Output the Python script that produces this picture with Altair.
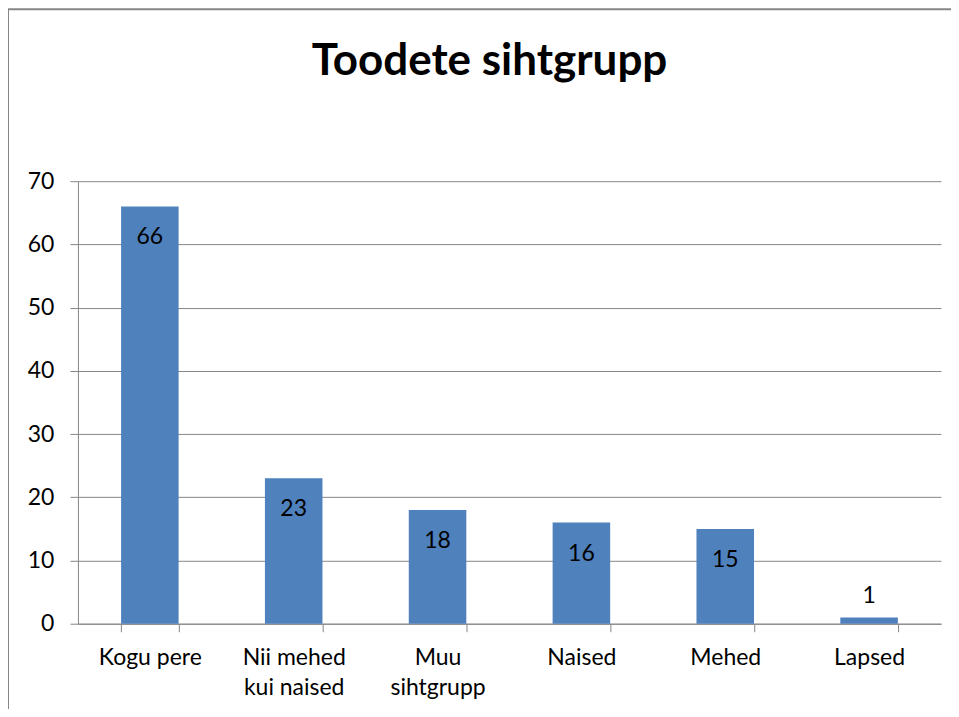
import altair as alt
import pandas as pd

categories = ["Kogu pere", "Nii mehed\nkui naised", "Muu\nsihtgrupp", "Naised", "Mehed", "Lapsed"]
values = [66, 23, 18, 16, 15, 1]

df = pd.DataFrame({"cat": categories, "val": values})

FONT = "Lato"
GRID = "#868686"
FS = 23

x_enc = alt.X("cat:N", sort=categories, title=None,
              scale=alt.Scale(paddingInner=0.6, paddingOuter=0.3),
              axis=alt.Axis(labelAngle=0, labelExpr="split(datum.label, '\\n')",
                            labelFontSize=FS, labelFont=FONT, labelColor="black",
                            labelLineHeight=30, labelPadding=15, labelBaseline="top",
                            tickBand="extent", tickSize=8, tickColor=GRID,
                            domainColor=GRID, grid=False))
y_enc = alt.Y("val:Q", title=None,
              scale=alt.Scale(domain=[0, 70]),
              axis=alt.Axis(values=[0, 10, 20, 30, 40, 50, 60, 70],
                            labelFontSize=FS, labelFont=FONT, labelColor="black",
                            labelPadding=16, tickSize=8, tickColor=GRID,
                            domainColor=GRID, gridColor=GRID, gridWidth=1))

base = alt.Chart(df)

bars = base.mark_bar(color="#4F81BD").encode(x=x_enc, y=y_enc)

inside = base.transform_filter("datum.val >= 5").mark_text(
    font=FONT, fontSize=FS, color="black", baseline="middle", dy=31
).encode(x=alt.X("cat:N", sort=categories), y="val:Q", text="val:Q")

outside = base.transform_filter("datum.val < 5").mark_text(
    font=FONT, fontSize=FS, color="black", baseline="middle", dy=-21
).encode(x=alt.X("cat:N", sort=categories), y="val:Q", text="val:Q")

frame = alt.Chart(pd.DataFrame({"a": [0]})).mark_rect(
    fill=None, stroke=GRID, strokeWidth=2
).encode(x=alt.value(-70), x2=alt.value(1000), y=alt.value(-172), y2=alt.value(700))

chart = alt.layer(frame, bars, inside, outside).properties(
    width=864, height=443,
    title=alt.TitleParams("Toodete sihtgrupp", font=FONT, fontSize=44, fontWeight="bold",
                          color="black", anchor="middle", dx=-20, offset=0,
                          baseline="alphabetic", dy=111),
    autosize=alt.AutoSizeParams(type="none"),
    padding={"left": 70, "top": 173, "right": 10, "bottom": 85},
).configure_view(stroke=None)

chart.save("out.html", embed_options={"renderer": "svg", "actions": False})
